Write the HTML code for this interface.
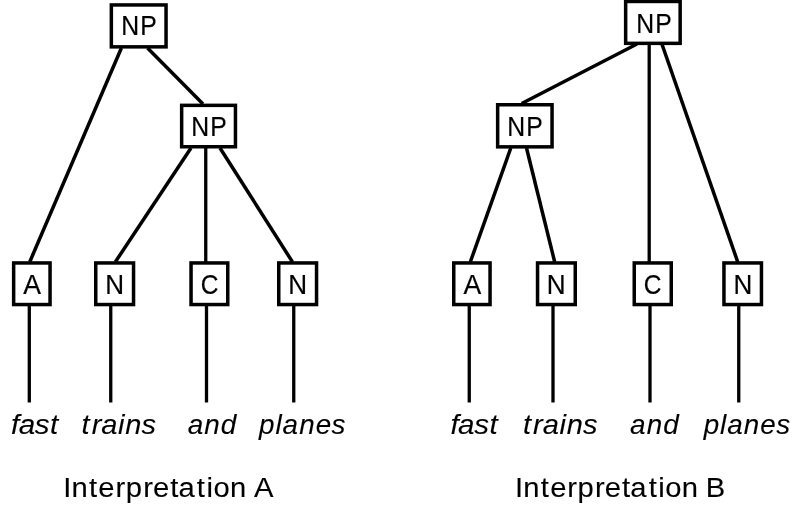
<!DOCTYPE html><html><head><meta charset="utf-8"><title>Interpretations</title><style>html,body{margin:0;padding:0;background:#fff;width:800px;height:513px;overflow:hidden}svg{position:absolute;left:0;top:0;display:block;will-change:transform}text{font-family:"Liberation Sans",sans-serif;fill:#000;font-kerning:none;stroke:#000}</style></head><body>
<svg width="800" height="513" viewBox="0 0 800 513">
<g stroke="#000" stroke-width="3.3" fill="none">
<line x1="121.4" y1="48" x2="29.7" y2="262" stroke-width="3.5"/>
<line x1="147.5" y1="48" x2="203" y2="104" stroke-width="3.5"/>
<line x1="191" y1="148" x2="115.3" y2="262" stroke-width="3.5"/>
<line x1="205.75" y1="148" x2="205.75" y2="262"/>
<line x1="220" y1="148" x2="292.5" y2="262" stroke-width="3.5"/>
<line x1="29.3" y1="306" x2="29.3" y2="402.5"/>
<line x1="110.75" y1="306" x2="110.75" y2="402.5"/>
<line x1="206.5" y1="306" x2="206.5" y2="402.5"/>
<line x1="293.75" y1="306" x2="293.75" y2="402.5"/>
<line x1="637" y1="44" x2="521.7" y2="103.5" stroke-width="3.5"/>
<line x1="649.2" y1="44" x2="649.2" y2="262"/>
<line x1="661.9" y1="44" x2="737.75" y2="262" stroke-width="3.5"/>
<line x1="510.8" y1="148" x2="470.3" y2="262" stroke-width="3.5"/>
<line x1="526.5" y1="148" x2="554.7" y2="262" stroke-width="3.5"/>
<line x1="469.25" y1="306" x2="469.25" y2="402.5"/>
<line x1="553" y1="306" x2="553" y2="402.5"/>
<line x1="650" y1="306" x2="650" y2="402.5"/>
<line x1="738.75" y1="306" x2="738.75" y2="402.5"/>
</g>
<g stroke="#000" stroke-width="3.5" fill="#fff">
<rect x="111.35" y="4.95" width="54.7" height="41.9"/>
<rect x="181.65" y="105.35" width="53.8" height="41.4"/>
<rect x="13.65" y="262.95" width="36.4" height="41.6"/>
<rect x="95.75" y="262.95" width="37.8" height="41.6"/>
<rect x="191.05" y="262.95" width="36.7" height="41.6"/>
<rect x="278.75" y="262.95" width="37.8" height="41.6"/>
<rect x="625.65" y="1.45" width="54.5" height="41.9"/>
<rect x="497.65" y="104.75" width="54.4" height="42.1"/>
<rect x="453.75" y="262.95" width="36.3" height="41.6"/>
<rect x="537.55" y="262.95" width="37.7" height="41.6"/>
<rect x="634.25" y="262.95" width="37" height="41.6"/>
<rect x="723.95" y="262.95" width="37.5" height="41.6"/>
</g>
<text transform="matrix(0.9518 0 0 1.0611 120.428 35.450)" x="0.98 20.95" font-size="26" stroke-width="0.2">NP</text>
<text transform="matrix(0.9518 0 0 1.0611 190.428 135.550)" x="0.98 20.95" font-size="26" stroke-width="0.2">NP</text>
<text transform="matrix(1.0229 0 0 1.0611 23.058 294.400)" x="0.15" font-size="26" stroke-width="0.2">A</text>
<text transform="matrix(1.0030 0 0 1.0611 104.807 294.400)" x="0.45" font-size="26" stroke-width="0.2">N</text>
<text transform="matrix(0.9426 0 0 1.0592 200.516 293.792)" x="0.25" font-size="26" stroke-width="0.2">C</text>
<text transform="matrix(1.0030 0 0 1.0611 287.707 294.400)" x="0.45" font-size="26" stroke-width="0.2">N</text>
<text transform="matrix(0.9518 0 0 1.0611 635.328 33.050)" x="0.98 20.95" font-size="26" stroke-width="0.2">NP</text>
<text transform="matrix(0.9518 0 0 1.0611 506.428 135.700)" x="0.98 20.95" font-size="26" stroke-width="0.2">NP</text>
<text transform="matrix(1.0229 0 0 1.0611 463.436 294.400)" x="0.15" font-size="26" stroke-width="0.2">A</text>
<text transform="matrix(1.0030 0 0 1.0611 546.385 294.400)" x="0.45" font-size="26" stroke-width="0.2">N</text>
<text transform="matrix(0.9426 0 0 1.0591 643.421 293.789)" x="0.25" font-size="26" stroke-width="0.2">C</text>
<text transform="matrix(1.0030 0 0 1.0611 733.068 294.400)" x="0.45" font-size="26" stroke-width="0.2">N</text>
<text transform="matrix(1.1376 0 0 1.0381 9.684 433.500)" x="1.16 7.91 22.06 35.48" font-size="26" stroke-width="0.1" font-style="italic">fast</text>
<text transform="matrix(1.1177 0 0 1.0320 80.317 433.500)" x="1.10 10.16 18.84 33.70 40.25 54.75" font-size="26" stroke-width="0.1" font-style="italic">trains</text>
<text transform="matrix(1.0729 0 0 1.0320 187.492 433.500)" x="0.15 15.62 31.09" font-size="26" stroke-width="0.1" font-style="italic">and</text>
<text transform="matrix(1.0698 0 0 1.0320 258.309 433.500)" x="0.74 16.08 22.70 38.20 53.71 68.51" font-size="26" stroke-width="0.1" font-style="italic">planes</text>
<text transform="matrix(1.1376 0 0 1.0366 449.136 433.500)" x="1.16 7.91 22.06 35.48" font-size="26" stroke-width="0.1" font-style="italic">fast</text>
<text transform="matrix(1.1177 0 0 1.0320 521.717 433.500)" x="1.10 10.16 18.84 33.70 40.25 54.75" font-size="26" stroke-width="0.1" font-style="italic">trains</text>
<text transform="matrix(1.0729 0 0 1.0320 629.964 433.500)" x="0.15 15.62 31.09" font-size="26" stroke-width="0.1" font-style="italic">and</text>
<text transform="matrix(1.0698 0 0 1.0320 702.925 433.500)" x="0.74 16.08 22.70 38.20 53.71 68.51" font-size="26" stroke-width="0.1" font-style="italic">planes</text>
<text transform="matrix(1.1239 0 0 1.0438 63.424 497.200)" x="-0.15 7.19 22.74 31.07 46.40 55.49 70.97 79.75 95.08 102.42 118.69 127.36 133.46 148.13 162.59 169.58" font-size="26" stroke-width="0.1">Interpretation A</text>
<text transform="matrix(1.1227 0 0 1.0438 515.230 497.200)" x="-0.14 7.21 22.77 31.11 46.45 55.56 71.05 79.84 95.19 102.54 118.82 127.50 133.61 148.30 162.76 169.74" font-size="26" stroke-width="0.1">Interpretation B</text>
</svg></body></html>
